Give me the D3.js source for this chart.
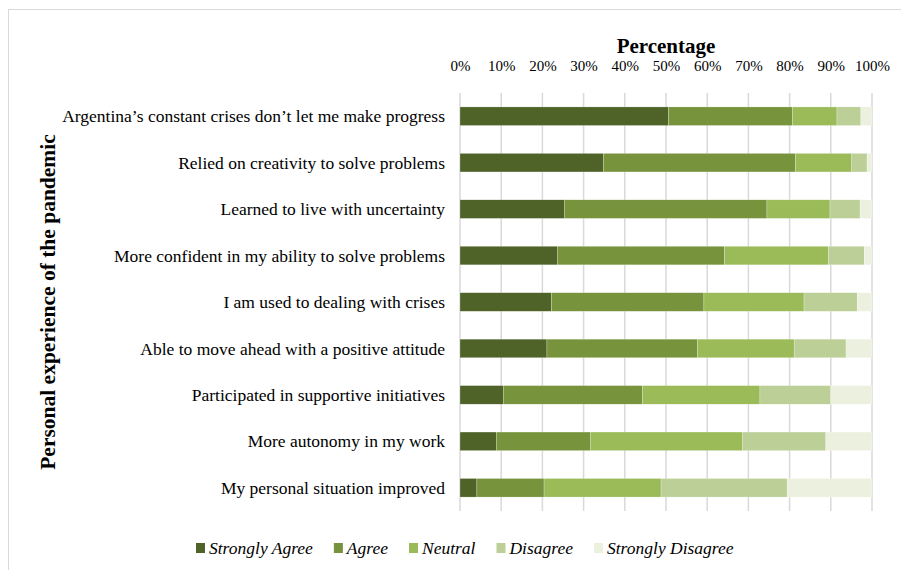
<!DOCTYPE html>
<html>
<head>
<meta charset="utf-8">
<script src="https://cdn.jsdelivr.net/npm/d3@7"></script>
<style>
  html, body { margin: 0; padding: 0; background: #fff; }
  svg { display: block; }
</style>
</head>
<body>
<svg id="chart" width="901" height="570"></svg>
<script>
const categories = [
  "Argentina’s constant crises don’t let me make progress",
  "Relied on creativity to solve problems",
  "Learned to live with uncertainty",
  "More confident in my ability to solve problems",
  "I am used to dealing with crises",
  "Able to move ahead with a positive attitude",
  "Participated in supportive initiatives",
  "More autonomy in my work",
  "My personal situation improved"
];
const seriesNames = ["Strongly Agree", "Agree", "Neutral", "Disagree", "Strongly Disagree"];
const stronglyAgree    = [50.6, 34.8, 25.3, 23.6, 22.2, 21.1, 10.5, 8.8, 4.1];
const agree            = [30.1, 46.6, 49.2, 40.6, 37.0, 36.5, 33.8, 22.8, 16.3];
const neutral          = [10.8, 13.7, 15.3, 25.2, 24.3, 23.5, 28.5, 36.9, 28.4];
const disagree         = [ 5.8,  3.7,  7.3,  8.7, 12.9, 12.6, 17.2, 20.3, 30.6];
const stronglyDisagree = [ 2.7,  1.2,  2.9,  1.9,  3.6,  6.3, 10.0, 11.2, 20.6];
const tickValues = [0, 10, 20, 30, 40, 50, 60, 70, 80, 90, 100];
const colors = ["#4f6228", "#77933c", "#9bbb59", "#bbcf96", "#ebf1de"];

const seriesValues = [stronglyAgree, agree, neutral, disagree, stronglyDisagree];
const rows = categories.map((c, i) => {
  const r = { category: c };
  seriesNames.forEach((s, k) => r[s] = seriesValues[k][i]);
  return r;
});

const svg = d3.select("#chart");
const serif = "'Liberation Serif', 'Times New Roman', serif";

// outer border (only top/left visible in frame)
svg.append("rect")
  .attr("x", 8.5).attr("y", 9.5)
  .attr("width", 1000).attr("height", 1000)
  .attr("fill", "none").attr("stroke", "#d9d9d9").attr("stroke-width", 1);

const plotLeft = 460, plotRight = 872, plotTop = 93, plotBottom = 511;

const x = d3.scaleLinear().domain([0, 100]).range([plotLeft, plotRight]);
const y = d3.scaleBand().domain(categories).range([plotTop, plotBottom]).paddingInner(0.6).paddingOuter(0.3);

// gridlines
svg.append("g").selectAll("line").data(tickValues).join("line")
  .attr("x1", d => x(d)).attr("x2", d => x(d))
  .attr("y1", plotTop).attr("y2", plotBottom)
  .attr("stroke", "#d9d9d9").attr("stroke-width", 1.5);

// stacked bars
const stack = d3.stack().keys(seriesNames)(rows);
svg.append("g").selectAll("g").data(stack).join("g")
  .attr("fill", (d, i) => colors[i])
  .selectAll("rect").data(d => d).join("rect")
  .attr("x", d => x(d[0]))
  .attr("width", d => x(d[1]) - x(d[0]))
  .attr("y", d => y(d.data.category))
  .attr("height", y.bandwidth())
  .attr("stroke", "#ffffff").attr("stroke-width", 0.4).attr("stroke-opacity", 0.6);

// top axis labels
const xAxis = d3.axisTop(x).tickValues(tickValues).tickFormat(d => d + "%").tickSize(0).tickPadding(0);
const gx = svg.append("g").attr("transform", "translate(0,71)").call(xAxis);
gx.select(".domain").remove();
gx.selectAll("text").attr("font-family", serif).attr("font-size", 15).attr("fill", "#000")
  .attr("dy", 0);

// category labels
const yAxis = d3.axisLeft(y).tickSize(0).tickPadding(0);
const gy = svg.append("g").attr("transform", "translate(445,0)").call(yAxis);
gy.select(".domain").remove();
gy.selectAll("text").attr("font-family", serif).attr("font-size", 17.5).attr("fill", "#000")
  .attr("dy", "0.35em");

// axis titles
svg.append("text").attr("x", (plotLeft + plotRight) / 2).attr("y", 53)
  .attr("text-anchor", "middle").attr("font-family", serif).attr("font-size", 21)
  .attr("font-weight", "bold").text("Percentage");
svg.append("text")
  .attr("transform", `translate(55,${(plotTop + plotBottom) / 2}) rotate(-90)`)
  .attr("text-anchor", "middle").attr("font-family", serif).attr("font-size", 21.5)
  .attr("font-weight", "bold").text("Personal experience of the pandemic");

// legend
const legend = svg.append("g");
let lx = 196;
seriesNames.forEach((s, i) => {
  legend.append("rect").attr("x", lx).attr("y", 543).attr("width", 9).attr("height", 10)
    .attr("fill", colors[i]);
  const t = legend.append("text").attr("x", lx + 13).attr("y", 554)
    .attr("font-family", serif).attr("font-size", 17.5).attr("font-style", "italic")
    .attr("fill", "#000").text(s);
  lx += 13 + t.node().getComputedTextLength() + 21;
});
</script>
</body>
</html>
